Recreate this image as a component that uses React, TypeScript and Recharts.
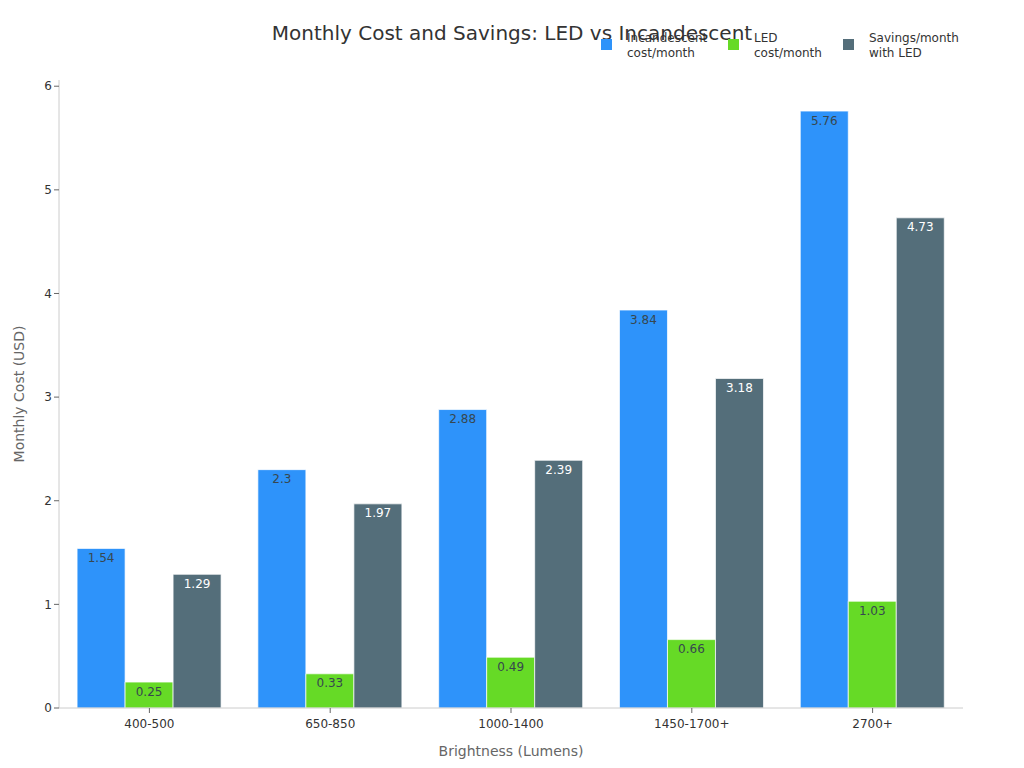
import { BarChart, Bar, XAxis, YAxis, LabelList } from 'recharts';

const categories = ['400-500', '650-850', '1000-1400', '1450-1700+', '2700+'];
const incandescentCost = [1.54, 2.3, 2.88, 3.84, 5.76];
const ledCost = [0.25, 0.33, 0.49, 0.66, 1.03];
const savings = [1.29, 1.97, 2.39, 3.18, 4.73];
const yTicks = [0, 1, 2, 3, 4, 5, 6];

const series = [
  { key: 'incandescent', lines: ['Incandescent', 'cost/month'], color: '#2E93FA', labelColor: '#37474F' },
  { key: 'led', lines: ['LED', 'cost/month'], color: '#66DA26', labelColor: '#37474F' },
  { key: 'savings', lines: ['Savings/month', 'with LED'], color: '#546E7A', labelColor: '#fff' },
];

const data = categories.map((name, i) => ({
  name,
  incandescent: incandescentCost[i],
  led: ledCost[i],
  savings: savings[i],
}));

const FONT = '"DejaVu Sans", sans-serif';
const legendX = [601, 728, 843];

export default function App() {
  return (
    <div style={{ position: 'absolute', left: 0, top: 0, width: 1024, height: 768, fontFamily: FONT }}>
      <div
        style={{
          position: 'absolute',
          left: 0,
          width: 1024,
          top: 20,
          textAlign: 'center',
          fontSize: 20,
          color: '#333',
          lineHeight: '26px',
        }}
      >
        Monthly Cost and Savings: LED vs Incandescent
      </div>
      {series.map((s, i) => (
        <div key={s.key} style={{ position: 'absolute', left: legendX[i], top: 31, display: 'flex' }}>
          <div style={{ width: 11, height: 11, background: s.color, marginTop: 8, marginRight: 15 }} />
          <div style={{ fontSize: 12, color: '#333', lineHeight: '15px' }}>
            {s.lines.map((l) => (
              <div key={l}>{l}</div>
            ))}
          </div>
        </div>
      ))}
      <BarChart
        width={1024}
        height={768}
        data={data}
        margin={{ top: 80, right: 61, left: 0, bottom: 0 }}
        barCategoryGap="10%"
        barGap={0}
        style={{ fontFamily: FONT }}
      >
        <XAxis
          dataKey="name"
          height={60}
          stroke="#ccc"
          tick={{ fill: '#333', fontSize: 12 }}
          tickLine={{ stroke: '#666' }}
          tickSize={5}
          tickMargin={6}
          label={{ value: 'Brightness (Lumens)', position: 'insideBottom', offset: 12, fill: '#666', fontSize: 14 }}
        />
        <YAxis
          width={59}
          domain={[0, 6.06]}
          ticks={yTicks}
          stroke="#ccc"
          tick={{ fill: '#333', fontSize: 12 }}
          tickLine={{ stroke: '#666' }}
          tickSize={5}
          label={{ value: 'Monthly Cost (USD)', angle: -90, position: 'insideLeft', offset: 19, fill: '#666', fontSize: 14, style: { textAnchor: 'middle' } }}
        />
        {series.map((s) => (
          <Bar key={s.key} dataKey={s.key} fill={s.color} stroke="rgba(255,255,255,0.7)" strokeWidth={1} isAnimationActive={false}>
            <LabelList dataKey={s.key} position="insideTop" offset={5} fill={s.labelColor} fontSize={12} />
          </Bar>
        ))}
      </BarChart>
    </div>
  );
}
